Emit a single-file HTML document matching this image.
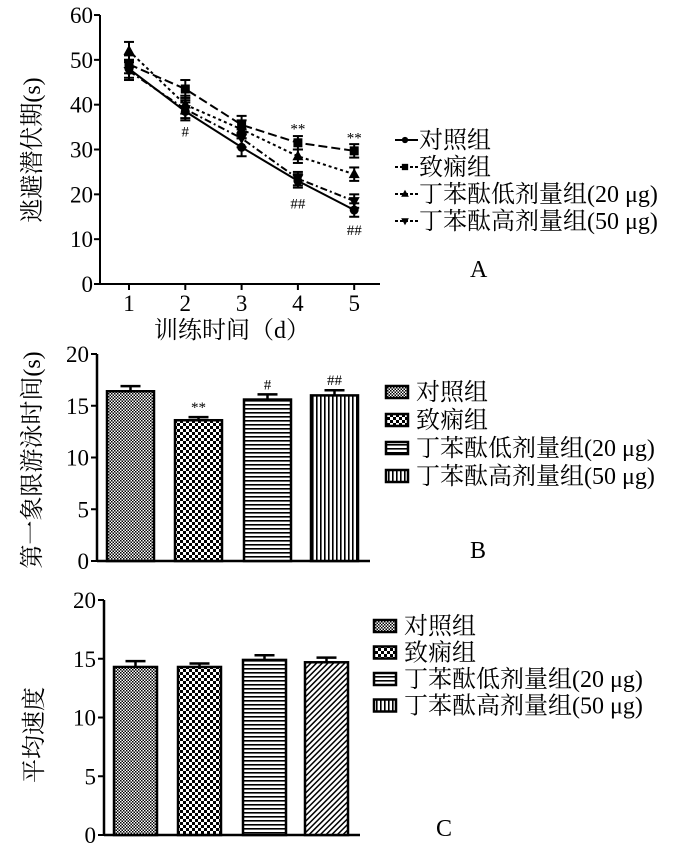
<!DOCTYPE html>
<html><head><meta charset="utf-8"><style>
body{margin:0;background:#fff;}
svg{display:block;font-family:"Liberation Serif","Noto Serif CJK SC",serif;}
</style></head><body>
<svg id="s" width="700" height="852" viewBox="0 0 700 852">
<defs>
<pattern id="p0" width="3" height="3" patternUnits="userSpaceOnUse"><rect width="3" height="3" fill="#fff"/><rect width="1.5" height="1.5" fill="#000"/><rect x="1.5" y="1.5" width="1.5" height="1.5" fill="#000"/></pattern>
<pattern id="p1" width="6" height="6" patternUnits="userSpaceOnUse"><rect width="6" height="6" fill="#fff"/><rect width="3" height="3" fill="#000"/><rect x="3" y="3" width="3" height="3" fill="#000"/></pattern>
<pattern id="p2" width="4" height="4" patternUnits="userSpaceOnUse"><rect width="4" height="4" fill="#fff"/><rect width="4" height="1.6" fill="#000"/></pattern>
<pattern id="p3" width="4" height="4" patternUnits="userSpaceOnUse"><rect width="4" height="4" fill="#fff"/><rect width="1.6" height="4" fill="#000"/></pattern>
<pattern id="p4" width="4" height="4" patternUnits="userSpaceOnUse" patternTransform="rotate(45)"><rect width="4" height="4" fill="#fff"/><rect width="1.5" height="4" fill="#000"/></pattern>
</defs>
</svg>
<script>
const NS="http://www.w3.org/2000/svg";
const svg=document.getElementById('s');
const days=[1,2,3,4,5];
const ctrlA=[48,38.5,30.5,23,16.5];
const modelA=[49,43.5,35.5,31.5,29.7];
const lowA=[52,40,34.5,28.5,24.5];
const highA=[47.5,39,32.5,23.5,18.5];
const errA=[2,2,2,1.5,1.5];
const ticksA=[0,10,20,30,40,50,60];
const groups=["对照组","致痫组","丁苯酞低剂量组(20 μg)","丁苯酞高剂量组(50 μg)"];
const valsB=[16.4,13.6,15.6,16.0];
const errB=[0.5,0.3,0.5,0.5];
const ticksB=[0,5,10,15,20];
const valsC=[14.3,14.3,14.9,14.7];
const errC=[0.5,0.3,0.4,0.4];
const ticksC=[0,5,10,15,20];
const FS=23, LF=24;

function el(t,a,txt){const e=document.createElementNS(NS,t);for(const k in a)e.setAttribute(k,a[k]);if(txt!==undefined)e.textContent=txt;svg.appendChild(e);return e;}
function ln(x1,y1,x2,y2,w,dash){return el('line',{x1,y1,x2,y2,stroke:'#000','stroke-width':w||2,'stroke-dasharray':dash||'none'});}

// ---------- Chart A ----------
const ax=d=>129+(d-1)*56.3, ay=v=>284-v*4.483;
let e;
e=ln(100,284,380,284,2);
e=ln(100,15,100,284,2);
ticksA.forEach(t=>{ln(94,ay(t),100,ay(t),2);e=el('text',{x:93,y:ay(t)+8,'text-anchor':'end','font-size':FS},t);});
days.forEach(d=>{ln(ax(d),284,ax(d),290,2);e=el('text',{x:ax(d),y:311,'text-anchor':'middle','font-size':FS},d);});
e=el('text',{x:232,y:338,'text-anchor':'middle','font-size':LF},'训练时间（d）');
e=el('text',{x:0,y:0,transform:'translate(40,150) rotate(-90)','text-anchor':'middle','font-size':LF},'逃避潜伏期(s)');
const seriesA=[[ctrlA,'none','c','control'],[modelA,'9,4','s','model'],[lowA,'3,3','t','low-dose'],[highA,'7,3,2,3','v','high-dose']];
function marker(x,y,k){
 if(k==='c')return el('circle',{cx:x,cy:y,r:4.5,fill:'#000'});
 if(k==='s')return el('rect',{x:x-4.5,y:y-4.5,width:9,height:9,fill:'#000'});
 if(k==='t')return el('polygon',{points:`${x},${y-6} ${x-5.5},${y+4} ${x+5.5},${y+4}`,fill:'#000'});
 return el('polygon',{points:`${x},${y+6} ${x-5.5},${y-4} ${x+5.5},${y-4}`,fill:'#000'});
}
seriesA.forEach(([vals,dash,mk,nm])=>{
 e=el('polyline',{points:vals.map((v,i)=>ax(days[i])+','+ay(v)).join(' '),fill:'none',stroke:'#000','stroke-width':2,'stroke-dasharray':dash});
 
 vals.forEach((v,i)=>{const x=ax(days[i]);
  ln(x,ay(v+errA[i]),x,ay(v-errA[i]),2);ln(x-5,ay(v+errA[i]),x+5,ay(v+errA[i]),2);ln(x-5,ay(v-errA[i]),x+5,ay(v-errA[i]),2);
  e=marker(x,ay(v),mk);});
});
[[2,ctrlA[1]-4.5,'#'],[4,modelA[3]+3.2,'**'],[5,modelA[4]+3,'**'],[4,ctrlA[3]-5,'##'],[5,ctrlA[4]-4.5,'##']].forEach(([d,v,s])=>{
 e=el('text',{x:ax(d),y:ay(v)+5,'text-anchor':'middle','font-size':15},s);});
const legA=[['none','c'],['9,4','s'],['3,3','t'],['7,3,2,3','v']];
legA.forEach(([dash,mk],i)=>{const y=140+i*27;
 ln(395,y,418,y,2,dash==='none'?'none':'3,2');marker(405,y,mk).setAttribute('transform',`translate(${405} ${y}) scale(0.7) translate(${-405} ${-y})`);
 e=el('text',{x:419,y:y+8,'font-size':LF},groups[i]);});
e=el('text',{x:470,y:277,'font-size':LF},'A');

// ---------- bar charts ----------
function barChart(P){
 const y=v=>P.y0-v*(P.y0-P.y20)/20;
 e=ln(P.xa,P.y0,P.xe,P.y0,2.5);
 e=ln(P.xa,P.y20,P.xa,P.y0,2.5);
 P.ticks.forEach(t=>{ln(P.xa-6,y(t),P.xa,y(t),2);e=el('text',{x:P.xa-8,y:y(t)+8,'text-anchor':'end','font-size':FS},t);});
 P.vals.forEach((v,i)=>{const x=P.bx[i];
  ln(x+P.w/2,y(v),x+P.w/2,y(v+P.err[i]),2.5);ln(x+P.w/2-10,y(v+P.err[i]),x+P.w/2+10,y(v+P.err[i]),2.5);
  e=el('rect',{x:x,y:y(v),width:P.w,height:P.y0-y(v),fill:'url(#'+P.pats[i]+')',stroke:'#000','stroke-width':2.5});
  
  if(P.sig&&P.sig[i]){e=el('text',{x:x+P.w/2,y:y(v+P.err[i])-5,'text-anchor':'middle','font-size':15},P.sig[i]);}
 });
 e=el('text',{x:0,y:0,transform:`translate(${P.tx},${P.ty}) rotate(-90)`,'text-anchor':'middle','font-size':LF},P.title);
 groups.forEach((g,i)=>{const yy=P.ly+i*P.ld;
  e=el('rect',{x:P.lx,y:yy-6,width:22,height:12,fill:'url(#'+P.lpats[i]+')',stroke:'#000','stroke-width':2.5});
  e=el('text',{x:P.lx+30,y:yy+8,'font-size':LF},g);});
 e=el('text',{x:P.px,y:P.py,'font-size':LF},P.label);
}
barChart({id:'b',y0:561,y20:354,xa:97,xe:370,bx:[107,175,244,311],w:47,vals:valsB,err:errB,ticks:ticksB,
 pats:['p0','p1','p2','p3'],lpats:['p0','p1','p2','p3'],sig:['','**','#','##'],title:'第一象限游泳时间(s)',tx:40,ty:460,
 lx:386,ly:392,ld:28,px:470,py:558,label:'B'});
barChart({id:'c',y0:835,y20:600,xa:104,xe:360,bx:[114,178,243,305],w:43,vals:valsC,err:errC,ticks:ticksC,
 pats:['p0','p1','p2','p4'],lpats:['p0','p1','p2','p3'],sig:null,title:'平均速度',tx:42,ty:735,
 lx:374,ly:626,ld:26.5,px:436,py:836,label:'C'});
</script>
</body></html>
